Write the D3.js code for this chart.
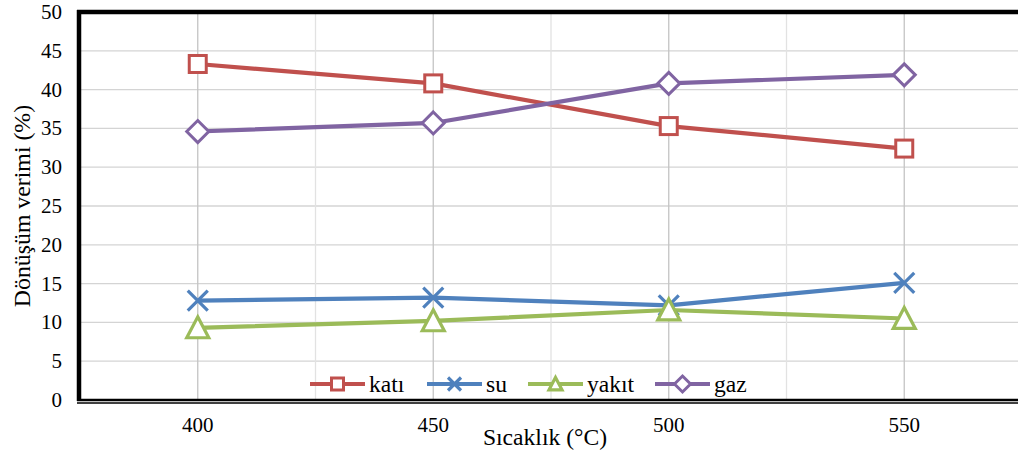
<!DOCTYPE html>
<html>
<head>
<meta charset="utf-8">
<script src="https://cdn.jsdelivr.net/npm/d3@7"></script>
<style>
    body { margin: 0; background: #fff; }
    svg text { font-family: "Liberation Serif", "Times New Roman", Times, serif; fill: #000; }
</style>
</head>
<body>
<svg id="chart"></svg>
<script>
// data
const categories = ["400", "450", "500", "550"];
const kati = [43.3, 40.8, 35.3, 32.4];
const su = [12.8, 13.2, 12.2, 15.1];
const yakit = [9.3, 10.2, 11.6, 10.5];
const gaz = [34.6, 35.7, 40.8, 41.9];
const yTicks = [0, 5, 10, 15, 20, 25, 30, 35, 40, 45, 50];

const series = [
    { name: "katı", values: kati, color: "#C0504D", symbol: "square" },
    { name: "su", values: su, color: "#4F81BD", symbol: "cross" },
    { name: "yakıt", values: yakit, color: "#9BBB59", symbol: "triangle" },
    { name: "gaz", values: gaz, color: "#8064A2", symbol: "diamond" }
];

const width = 1018, height = 454;
const margin = { left: 80, top: 12, right: -4, bottom: 54 };
const plotW = width - margin.left - margin.right;
const plotH = height - margin.top - margin.bottom;

const svg = d3.select("#chart")
    .attr("width", width)
    .attr("height", height);

const x = d3.scaleBand().domain(categories).range([0, plotW]);
const y = d3.scaleLinear().domain([0, 50]).range([plotH, 0]);
const cx = d => x(d) + x.bandwidth() / 2;

const g = svg.append("g").attr("transform", `translate(${margin.left},${margin.top})`);

// horizontal grid
g.append("g").selectAll("line")
    .data(yTicks)
    .join("line")
    .attr("x1", 0).attr("x2", plotW)
    .attr("y1", d => y(d)).attr("y2", d => y(d))
    .attr("stroke", "#d4d4d4").attr("stroke-width", 1.3);

// vertical grid: band edges (light) and centres (darker)
g.append("g").selectAll("line")
    .data(categories.slice(1))
    .join("line")
    .attr("x1", d => x(d)).attr("x2", d => x(d))
    .attr("y1", 0).attr("y2", plotH)
    .attr("stroke", "#e2e2e2").attr("stroke-width", 1.3);
g.append("g").selectAll("line")
    .data(categories)
    .join("line")
    .attr("x1", d => cx(d)).attr("x2", d => cx(d))
    .attr("y1", 0).attr("y2", plotH)
    .attr("stroke", "#c4c4c4").attr("stroke-width", 1.3);

// frame
g.append("line").attr("x1", -3).attr("x2", plotW).attr("y1", 0).attr("y2", 0)
    .attr("stroke", "#000").attr("stroke-width", 4.5);
g.append("line").attr("x1", -1).attr("x2", -1).attr("y1", -2).attr("y2", plotH + 1)
    .attr("stroke", "#000").attr("stroke-width", 4.5);
g.append("line").attr("x1", -3).attr("x2", plotW).attr("y1", plotH).attr("y2", plotH)
    .attr("stroke", "#000").attr("stroke-width", 2.6);
g.append("line").attr("x1", -3).attr("x2", plotW).attr("y1", plotH + 3).attr("y2", plotH + 3)
    .attr("stroke", "#000").attr("stroke-width", 1.3);

// y tick labels
g.append("g").selectAll("text")
    .data(yTicks)
    .join("text")
    .attr("x", -18)
    .attr("y", d => y(d) + 7)
    .attr("text-anchor", "end")
    .attr("font-size", 21)
    .text(d => d);

// x tick labels
g.append("g").selectAll("text")
    .data(categories)
    .join("text")
    .attr("x", d => cx(d))
    .attr("y", plotH + 32)
    .attr("text-anchor", "middle")
    .attr("font-size", 21)
    .text(d => d);

// axis titles
svg.append("text")
    .attr("x", 545).attr("y", 445)
    .attr("text-anchor", "middle")
    .attr("font-size", 23.6)
    .text("Sıcaklık (°C)");
svg.append("text")
    .attr("transform", `translate(30,${margin.top + plotH / 2}) rotate(-90)`)
    .attr("text-anchor", "middle")
    .attr("font-size", 23.8)
    .text("Dönüşüm verimi (%)");

function marker(sel, s, size) {
    if (s.symbol === "cross") {
        const h = size / 2;
        sel.append("path")
            .attr("d", `M${-h},${-h}L${h},${h}M${-h},${h}L${h},${-h}`)
            .attr("stroke", s.color).attr("stroke-width", 3.2).attr("fill", "none");
    } else if (s.symbol === "square") {
        const h = size / 2;
        sel.append("rect").attr("x", -h).attr("y", -h).attr("width", size).attr("height", size)
            .attr("fill", "#fff").attr("stroke", s.color).attr("stroke-width", 3);
    } else if (s.symbol === "triangle") {
        const h = size / 2;
        sel.append("path")
            .attr("d", `M0,${-h * 1.0}L${h},${h * 0.9}L${-h},${h * 0.9}Z`)
            .attr("fill", "#fff").attr("stroke", s.color).attr("stroke-width", 3.2);
    } else {
        const h = size / 2 + 1;
        sel.append("path")
            .attr("d", `M0,${-h}L${h},0L0,${h}L${-h},0Z`)
            .attr("fill", "#fff").attr("stroke", s.color).attr("stroke-width", 3);
    }
}

const sizes = { square: 17, cross: 20, triangle: 22, diamond: 20 };
const legendSizes = { square: 12, cross: 13, triangle: 13, diamond: 14 };

const line = d3.line()
    .x((d, i) => cx(categories[i]))
    .y(d => y(d));

series.forEach(s => {
    g.append("path")
        .datum(s.values)
        .attr("d", line)
        .attr("fill", "none")
        .attr("stroke", s.color)
        .attr("stroke-width", 4.2)
        .attr("stroke-linejoin", "round");
});
series.forEach(s => {
    s.values.forEach((v, i) => {
        const m = g.append("g").attr("transform", `translate(${cx(categories[i])},${y(v)})`);
        marker(m, s, sizes[s.symbol]);
    });
});

// legend
const legendX = [310, 427, 528, 655];
const legendY = 384;
series.forEach((s, i) => {
    const lg = svg.append("g").attr("transform", `translate(${legendX[i]},${legendY})`);
    lg.append("line").attr("x1", 0).attr("x2", 55).attr("y1", 0).attr("y2", 0)
        .attr("stroke", s.color).attr("stroke-width", 4);
    const m = lg.append("g").attr("transform", "translate(27.5,0)");
    marker(m, s, legendSizes[s.symbol]);
    lg.append("text").attr("x", 59).attr("y", 8)
        .attr("font-size", 23.6)
        .text(s.name);
});
</script>
</body>
</html>
